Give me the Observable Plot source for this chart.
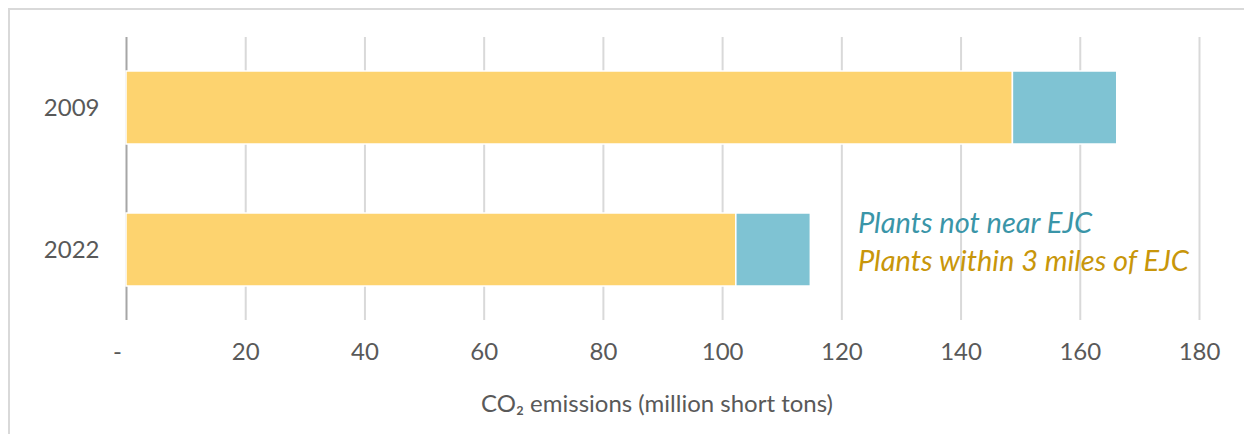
<!DOCTYPE html>
<html>
<head>
<meta charset="utf-8">
<script src="https://cdn.jsdelivr.net/npm/d3@7"></script>
<script src="https://cdn.jsdelivr.net/npm/@observablehq/plot@0.6"></script>
<style>
  html, body { margin: 0; padding: 0; background: #fff; }
  #wrap { position: relative; width: 1244px; height: 434px; overflow: hidden; font-family: Lato, sans-serif; }
  #frame { position: absolute; left: 8px; top: 8px; width: 1300px; height: 500px; border-top: 2px solid #d9d9d9; border-left: 2px solid #d9d9d9; pointer-events: none; }
  #legend { position: absolute; left: 858px; top: 203px; font-style: italic; font-size: 29px; line-height: 38px; }
  #legend div { white-space: nowrap; }
</style>
</head>
<body>
<div id="wrap">
  <div id="chart"></div>
  <div id="frame"></div>
  <div id="legend"></div>
</div>
<script>
const years = ["2009", "2022"];
const series = ["Plants within 3 miles of EJC", "Plants not near EJC"];
const nearEJC = [148.7, 102.3];
const notNearEJC = [17.5, 12.5];
const xTicks = [0, 20, 40, 60, 80, 100, 120, 140, 160, 180];
const colors = ["#FDD36F", "#7FC3D3"];
const legendColors = ["#C8960A", "#3A95A8"];
const axisTitle = "CO₂ emissions (million short tons)";

const data = [];
years.forEach((yr, i) => {
  data.push({year: yr, series: series[0], value: nearEJC[i]});
  data.push({year: yr, series: series[1], value: notNearEJC[i]});
});

const chart = Plot.plot({
  width: 1244,
  height: 434,
  marginLeft: 126,
  marginRight: 45,
  marginTop: 37,
  marginBottom: 114,
  style: {fontFamily: "Lato, sans-serif", color: "#595959", background: "transparent"},
  x: {domain: [0, 180]},
  y: {domain: years, paddingInner: 0.488, paddingOuter: 0.237},
  color: {domain: series, range: colors},
  marks: [
    Plot.gridX(xTicks.filter(d => d !== 0), {stroke: "#d9d9d9", strokeOpacity: 1, strokeWidth: 2}),
    Plot.ruleX([0], {stroke: "#a6a6a6", strokeWidth: 2}),
    Plot.barX(data, Plot.stackX({x: "value", y: "year", fill: "series", order: series, stroke: "white", strokeWidth: 1.5})),
    Plot.axisX(xTicks.filter(d => d !== 0), {tickSize: 0, tickPadding: 22, fontSize: 24, fill: "#595959",
      tickFormat: d => String(d), label: null}),
    Plot.axisX(xTicks.filter(d => d === 0), {tickSize: 0, tickPadding: 22, fontSize: 24, fill: "#595959",
      tickFormat: () => "-", label: null, dx: -9}),
    Plot.axisY({tickSize: 0, tickPadding: 27, fontSize: 24, fill: "#595959", label: null}),
    Plot.text([axisTitle], {frameAnchor: "bottom", dy: 91, dx: -6, fontSize: 24, fill: "#595959"})
  ]
});
document.getElementById("chart").appendChild(chart);

const legend = document.getElementById("legend");
[1, 0].forEach(i => {
  const d = document.createElement("div");
  d.textContent = series[i];
  d.style.color = legendColors[i];
  legend.appendChild(d);
});
</script>
</body>
</html>
